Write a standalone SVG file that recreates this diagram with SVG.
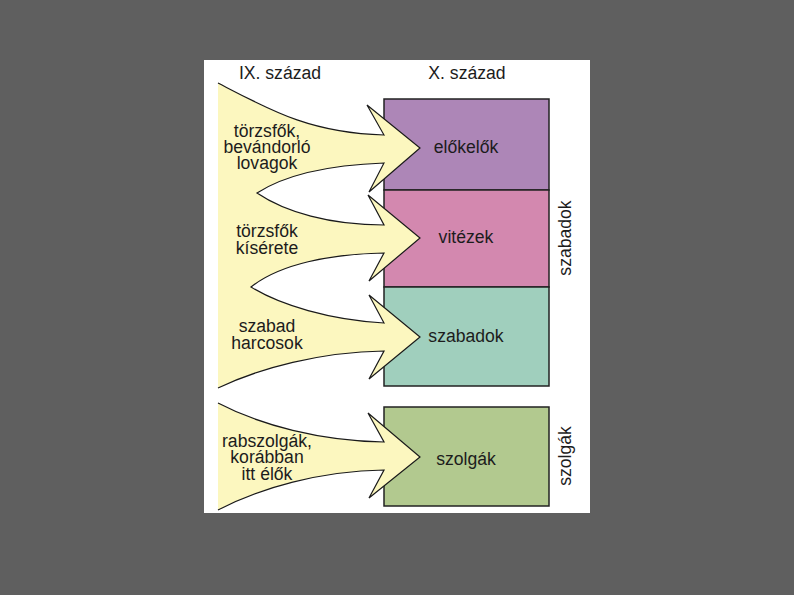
<svg xmlns="http://www.w3.org/2000/svg" width="794" height="595" viewBox="0 0 794 595">
<style>
.t{font-family:"Liberation Sans",Arial,sans-serif;font-size:17.6px;fill:#1c1c1c;text-anchor:middle}
.box{stroke:#222;stroke-width:1.5}
.yf{fill:#fcf7bf;stroke:none}
.ys{fill:none;stroke:#1a1a1a;stroke-width:1.2;stroke-linejoin:miter}
</style>
<rect x="0" y="0" width="794" height="595" fill="#5f5f5f"/>
<rect x="204" y="60" width="386" height="453" fill="#ffffff"/>
<text class="t" x="280" y="79">IX. század</text>
<text class="t" x="467" y="79">X. század</text>
<g id="nodes">
<g id="elokelok"><rect class="box" x="384" y="99" width="165" height="91" fill="#ad86b7"/><text class="t" x="466" y="153">előkelők</text></g>
<g id="vitezek"><rect class="box" x="384" y="190" width="165" height="97" fill="#d388af"/><text class="t" x="466" y="243">vitézek</text></g>
<g id="szabadok"><rect class="box" x="384" y="287" width="165" height="99" fill="#a0cfbd"/><text class="t" x="466" y="342">szabadok</text></g>
<g id="szolgak"><rect class="box" x="384" y="407" width="165" height="99" fill="#b2c98f"/><text class="t" x="466" y="465">szolgák</text></g>
<g id="label-szabadok"><text class="t" transform="translate(571,238) rotate(-90)">szabadok</text></g>
<g id="label-szolgak"><text class="t" transform="translate(571,456) rotate(-90)">szolgák</text></g>
</g>
<g id="connectors">
<path class="yf" d="M218,83 C270,110 310,133 384,135 L367,105 L420,148 L369,192 L384,163 C330,165 285,175 257,193 C285,212 330,225 384,225 L368,195 L420,238 L369,281 L384,253 C330,254 280,264 251,287 C280,305 330,320 384,323 L369,295 L420,337 L369,379 L384,351 C320,352 260,368 218,388 Z"/>
<path class="ys" d="M218,83 C270,110 310,133 384,135 L367,105 L420,148 L369,192 L384,163 C330,165 285,175 257,193 C285,212 330,225 384,225 L368,195 L420,238 L369,281 L384,253 C330,254 280,264 251,287 C280,305 330,320 384,323 L369,295 L420,337 L369,379 L384,351 C320,352 260,368 218,388"/>
<path class="yf" d="M218,403 C260,425 320,441 384,442 L368,413 L420,457 L369,498 L384,470 C320,471 260,488 218,510 Z"/>
<path class="ys" d="M218,403 C260,425 320,441 384,442 L368,413 L420,457 L369,498 L384,470 C320,471 260,488 218,510"/>
</g>
<g id="arrow-labels">
<text class="t" x="267" y="137">törzsfők,</text>
<text class="t" x="267" y="153">bevándorló</text>
<text class="t" x="267" y="169">lovagok</text>
<text class="t" x="267" y="237">törzsfők</text>
<text class="t" x="267" y="254">kísérete</text>
<text class="t" x="267" y="332">szabad</text>
<text class="t" x="267" y="349">harcosok</text>
<text class="t" x="267" y="447">rabszolgák,</text>
<text class="t" x="267" y="463">korábban</text>
<text class="t" x="267" y="480">itt élők</text>
</g>
</svg>
